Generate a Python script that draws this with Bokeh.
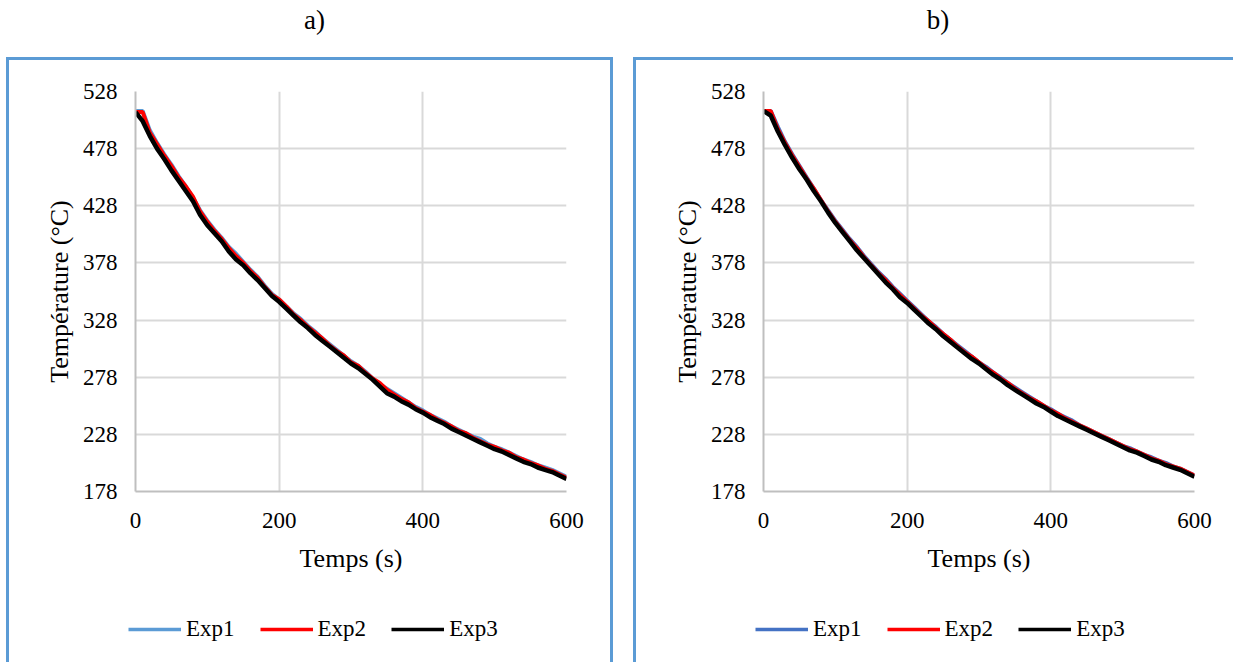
from bokeh.plotting import figure
from bokeh.models import Div, FixedTicker, Legend, LegendItem, Range1d, Spacer
from bokeh.layouts import row, column
from bokeh.embed import file_html
from bokeh.resources import INLINE

FONT = "Liberation Serif"

time_s = list(range(0, 601, 10))
y_ticks = [178, 228, 278, 328, 378, 428, 478, 528]
x_ticks = [0, 200, 400, 600]
series_names = ["Exp1", "Exp2", "Exp3"]

a_exp1 = [511, 511, 494, 483, 473, 464, 454, 445, 435, 424,
          415, 407, 400, 392, 386, 379, 372, 366, 358, 351,
          346, 340, 334, 329, 323, 318, 312, 307, 302, 297,
          292, 288, 283, 277, 272, 268, 264, 260, 256, 252,
          249, 245, 242, 239, 235, 232, 229, 226, 224, 220,
          217, 215, 212, 209, 206, 204, 201, 199, 197, 194,
          191]
a_exp2 = [510, 510, 492, 482, 472, 463, 453, 445, 436, 423,
          414, 406, 399, 391, 384, 378, 371, 365, 357, 350,
          346, 340, 333, 328, 322, 317, 312, 306, 301, 297,
          291, 288, 282, 277, 273, 267, 263, 259, 256, 251,
          248, 245, 241, 238, 235, 231, 229, 225, 222, 219,
          217, 214, 212, 208, 206, 203, 201, 198, 196, 193,
          190]
a_exp3 = [510, 502, 489, 478, 469, 459, 450, 441, 432, 420,
          411, 404, 397, 388, 381, 376, 369, 363, 356, 349,
          344, 338, 332, 326, 321, 315, 310, 305, 300, 295,
          290, 286, 281, 276, 270, 264, 261, 257, 254, 250,
          247, 243, 240, 237, 233, 230, 227, 224, 221, 218,
          215, 213, 210, 207, 204, 202, 199, 197, 195, 192,
          189]

b_exp1 = [511, 511, 497, 484, 473, 463, 453, 443, 433, 424,
          415, 407, 399, 392, 384, 377, 370, 364, 357, 351,
          345, 339, 333, 327, 322, 316, 311, 306, 301, 296,
          291, 287, 282, 278, 273, 269, 265, 261, 257, 253,
          250, 246, 243, 240, 236, 233, 230, 227, 224, 221,
          218, 216, 213, 210, 208, 205, 203, 200, 198, 195,
          192]
b_exp2 = [511, 511, 495, 483, 472, 462, 452, 443, 433, 423,
          414, 406, 398, 391, 383, 376, 369, 363, 356, 350,
          344, 338, 332, 327, 321, 316, 311, 305, 300, 296,
          291, 286, 282, 277, 273, 268, 264, 260, 257, 253,
          249, 246, 242, 239, 236, 233, 230, 227, 224, 221,
          218, 215, 213, 210, 207, 205, 202, 200, 198, 195,
          192]
b_exp3 = [511, 507, 493, 481, 470, 460, 451, 441, 432, 422,
          413, 405, 397, 389, 382, 375, 368, 361, 355, 348,
          343, 337, 331, 325, 320, 314, 309, 304, 299, 294,
          290, 285, 280, 276, 271, 267, 263, 259, 255, 252,
          248, 244, 241, 238, 235, 232, 229, 226, 223, 220,
          217, 214, 212, 209, 206, 204, 201, 199, 197, 194,
          191]

BORDER = "#5B9BD5"
BSTYLE = f"3px solid {BORDER}"


def make_chart(series, colors, widths, w, left, right, css):
    p = figure(width=w, height=531,
               x_range=Range1d(0, 600), y_range=Range1d(178, 528),
               output_backend="svg", toolbar_location=None,
               min_border_left=left, min_border_right=right,
               min_border_top=31, min_border_bottom=100,
               frame_align=False, styles=css)
    p.outline_line_color = None
    p.background_fill_color = "white"
    p.border_fill_color = "white"
    for ys, c, lw in zip(series, colors, widths):
        p.line(time_s, ys, line_color=c, line_width=lw)
    p.xaxis.ticker = FixedTicker(ticks=x_ticks)
    p.yaxis.ticker = FixedTicker(ticks=y_ticks)
    for ax in (p.xaxis[0], p.yaxis[0]):
        ax.axis_line_color = "#BFBFBF"
        ax.axis_line_width = 2
        ax.major_tick_line_color = None
        ax.minor_tick_line_color = None
        ax.major_tick_out = 0
        ax.major_tick_in = 0
        ax.major_label_text_font = FONT
        ax.major_label_text_font_size = "23px"
        ax.major_label_text_color = "black"
        ax.axis_label_text_font = FONT
        ax.axis_label_text_font_size = "26px"
        ax.axis_label_text_font_style = "normal"
        ax.axis_label_text_color = "black"
    p.xaxis.axis_label = "Temps (s)"
    p.yaxis.axis_label = "Température (°C)"
    p.xaxis.major_label_standoff = 21
    p.yaxis.major_label_standoff = 18
    p.xaxis.axis_label_standoff = 13
    p.yaxis.axis_label_standoff = 6
    p.grid.grid_line_color = "#D9D9D9"
    p.grid.grid_line_width = 2
    return p


def make_legend(series, colors, w, css):
    # legend strip below the chart; the series lie outside this strip's ranges,
    # so only the legend entries are visible
    q = figure(width=w, height=74, x_range=Range1d(0, 1), y_range=Range1d(0, 1),
               output_backend="svg", toolbar_location=None,
               x_axis_location=None, y_axis_location=None,
               min_border_left=0, min_border_right=0, min_border_top=0, min_border_bottom=0,
               frame_align=False, styles=css)
    q.outline_line_color = None
    q.grid.visible = False
    q.border_fill_color = "white"
    q.background_fill_color = "white"
    items = []
    for n, ys, c in zip(series_names, series, colors):
        r = q.line(time_s, ys, line_color=c, line_width=3.5)
        items.append(LegendItem(label=n, renderers=[r]))
    legend = Legend(items=items, orientation="horizontal", location=(119, 20),
                    border_line_color=None, background_fill_alpha=0,
                    label_text_font=FONT, label_text_font_size="23px",
                    label_text_color="black",
                    glyph_width=53, glyph_height=20, label_standoff=5,
                    spacing=25, padding=0, margin=0)
    q.add_layout(legend)
    return q


css_a_top = {"border-top": BSTYLE, "border-left": BSTYLE, "border-right": BSTYLE}
css_a_bot = {"border-left": BSTYLE, "border-right": BSTYLE}
css_b_top = {"border-top": BSTYLE, "border-left": BSTYLE}
css_b_bot = {"border-left": BSTYLE}

colors_a = ["#5B9BD5", "#FF0000", "#000000"]
colors_b = ["#4472C4", "#FF0000", "#000000"]
line_widths = [4, 4, 4.5]

series_a = [a_exp1, a_exp2, a_exp3]
series_b = [b_exp1, b_exp2, b_exp3]

pa = make_chart(series_a, colors_a, line_widths, 607, 126, 50, css_a_top)
la = make_legend(series_a, colors_a, 607, css_a_bot)
pb = make_chart(series_b, colors_b, line_widths, 600, 127, 42, css_b_top)
lb = make_legend(series_b, colors_b, 600, css_b_bot)

title_style = {"font-family": FONT, "font-size": "27px", "line-height": "30px",
               "text-align": "center", "width": "100%"}
ta = Div(text="a)", width=607, height=47, styles=title_style)
tb = Div(text="b)", width=603, height=47, styles=title_style)

layout = row(Spacer(width=6), column(ta, pa, la, spacing=0), Spacer(width=20),
             column(tb, pb, lb, spacing=0), spacing=0)

open("out.html", "w").write(file_html(layout, INLINE))
